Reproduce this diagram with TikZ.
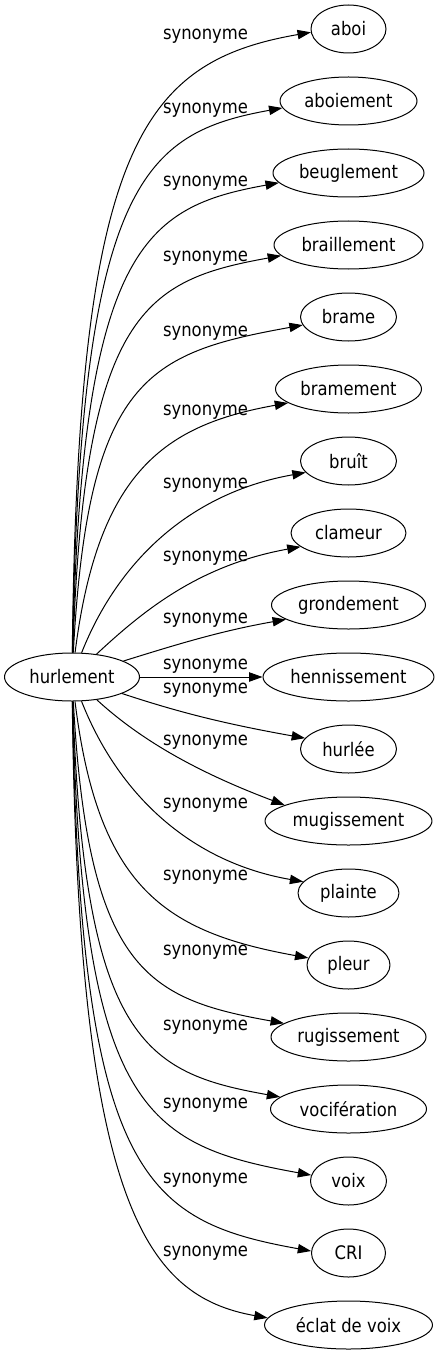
\documentclass[tikz,border=0pt]{standalone}
\usepackage{fontspec}
\setmainfont{DejaVu Sans}[FakeStretch=0.88]
\usetikzlibrary{arrows.meta,shapes.geometric}
\begin{document}
\begin{tikzpicture}[x=0.75pt,y=-0.75pt,>={Triangle[length=10pt,width=7pt]},line join=bevel,
  word/.style={draw,ellipse,inner sep=0pt,minimum height=36pt,line width=0.75pt,font=\fontsize{14pt}{16pt}\selectfont},
  rel/.style={inner sep=0pt,font=\fontsize{14pt}{16pt}\selectfont},
  syn/.style={->,line width=0.75pt}]
  \useasboundingbox (0,0) rectangle (439,1355);
%%
  % Node: hurlement
  \node [word,minimum width=101.25pt] (hurlement) at (72,677) {hurlement};
  % Nodes: synonymes
  \node [word,minimum width=56.25pt] (aboi) at (348.5,29) {aboi};
  \node [word,minimum width=102.75pt] (aboiement) at (348.5,101) {aboiement};
  \node [word,minimum width=113.25pt] (beuglement) at (348.5,173) {beuglement};
  \node [word,minimum width=111.75pt] (braillement) at (348.5,245) {braillement};
  \node [word,minimum width=72pt] (brame) at (348.5,317) {brame};
  \node [word,minimum width=109.5pt] (bramement) at (348.5,389) {bramement};
  \node [word,minimum width=72pt] (bruit) at (348.5,461) {bruît};
  \node [word,minimum width=86.25pt] (clameur) at (348.5,533) {clameur};
  \node [word,minimum width=115.5pt] (grondement) at (348.5,605) {grondement};
  \node [word,minimum width=128.25pt] (hennissement) at (348.5,677) {hennissement};
  \node [word,minimum width=72pt] (hurlee) at (348.5,749) {hurlée};
  \node [word,minimum width=125.25pt] (mugissement) at (348.5,821) {mugissement};
  \node [word,minimum width=75.75pt] (plainte) at (348.5,893) {plainte};
  \node [word,minimum width=62.25pt] (pleur) at (348.5,965) {pleur};
  \node [word,minimum width=116.25pt] (rugissement) at (348.5,1037) {rugissement};
  \node [word,minimum width=117pt] (vociferation) at (348.5,1109) {vocifération};
  \node [word,minimum width=57pt] (voix) at (348.5,1181) {voix};
  \node [word,minimum width=55.5pt] (cri) at (348.5,1253) {CRI};
  \node [word,minimum width=126pt] (eclat) at (348.5,1325) {éclat de voix};
%%
  % Edge: hurlement -> aboi
  \draw [syn] (hurlement) .. controls (78,148) and (140,62) .. (aboi.185);
  \node [rel] (l1) at (205.5,36) {synonyme};
  % Edge: hurlement -> aboiement
  \draw [syn] (hurlement) .. controls (80,182) and (144,133) .. (aboiement.186);
  \node [rel] (l2) at (205.5,110) {synonyme};
  % Edge: hurlement -> beuglement
  \draw [syn] (hurlement) .. controls (82,247) and (145,207) .. (beuglement.188);
  \node [rel] (l3) at (205.5,183) {synonyme};
  % Edge: hurlement -> braillement
  \draw [syn] (hurlement) .. controls (84,311) and (146,280) .. (braillement.189);
  \node [rel] (l4) at (205.5,258) {synonyme};
  % Edge: hurlement -> brame
  \draw [syn] (hurlement) .. controls (88,378) and (148,353) .. (brame.190);
  \node [rel] (l5) at (205.5,333) {synonyme};
  % Edge: hurlement -> bramement
  \draw [syn] (hurlement) .. controls (98,471) and (165,425) .. (bramement.193);
  \node [rel] (l6) at (205.5,412) {synonyme};
  % Edge: hurlement -> bruit
  \draw [syn] (hurlement) .. controls (118,561) and (190,493) .. (bruit.195);
  \node [rel] (l7) at (205.5,485) {synonyme};
  % Edge: hurlement -> clameur
  \draw [syn] (hurlement) .. controls (145,609) and (200,565) .. (clameur.196);
  \node [rel] (l8) at (205.5,558) {synonyme};
  % Edge: hurlement -> grondement
  \draw [syn] (hurlement) .. controls (175,645) and (220,631) .. (grondement.193);
  \node [rel] (l9) at (205.5,620) {synonyme};
  % Edge: hurlement -> hennissement
  \draw [syn] (hurlement) -- (hennissement);
  \node [rel] (l10) at (205.5,666) {synonyme};
  % Edge: hurlement -> hurlee
  \draw [syn] (hurlement) .. controls (175,711) and (220,723) .. (hurlee.166);
  \node [rel] (l11) at (205.5,690) {synonyme};
  % Edge: hurlement -> mugissement
  \draw [syn] (hurlement) .. controls (145,744) and (205,775) .. (mugissement.166);
  \node [rel] (l12) at (205.5,742) {synonyme};
  % Edge: hurlement -> plainte
  \draw [syn] (hurlement) .. controls (118,794) and (190,862) .. (plainte.166);
  \node [rel] (l13) at (205.5,805) {synonyme};
  % Edge: hurlement -> pleur
  \draw [syn] (hurlement) .. controls (98,888) and (165,932) .. (pleur.170);
  \node [rel] (l14) at (205.5,877) {synonyme};
  % Edge: hurlement -> rugissement
  \draw [syn] (hurlement) .. controls (88,971) and (148,999) .. (rugissement.168);
  \node [rel] (l15) at (205.5,952) {synonyme};
  % Edge: hurlement -> vociferation
  \draw [syn] (hurlement) .. controls (84,1042) and (146,1073) .. (vociferation.170);
  \node [rel] (l16) at (205.5,1027) {synonyme};
  % Edge: hurlement -> voix
  \draw [syn] (hurlement) .. controls (82,1110) and (145,1145) .. (voix.171);
  \node [rel] (l17) at (205.5,1105) {synonyme};
  % Edge: hurlement -> cri
  \draw [syn] (hurlement) .. controls (80,1176) and (144,1221) .. (cri.177);
  \node [rel] (l18) at (205.5,1180) {synonyme};
  % Edge: hurlement -> eclat
  \draw [syn] (hurlement) .. controls (78,1203) and (145,1296) .. (eclat.175);
  \node [rel] (l19) at (205.5,1253) {synonyme};
%
\end{tikzpicture}
\end{document}
